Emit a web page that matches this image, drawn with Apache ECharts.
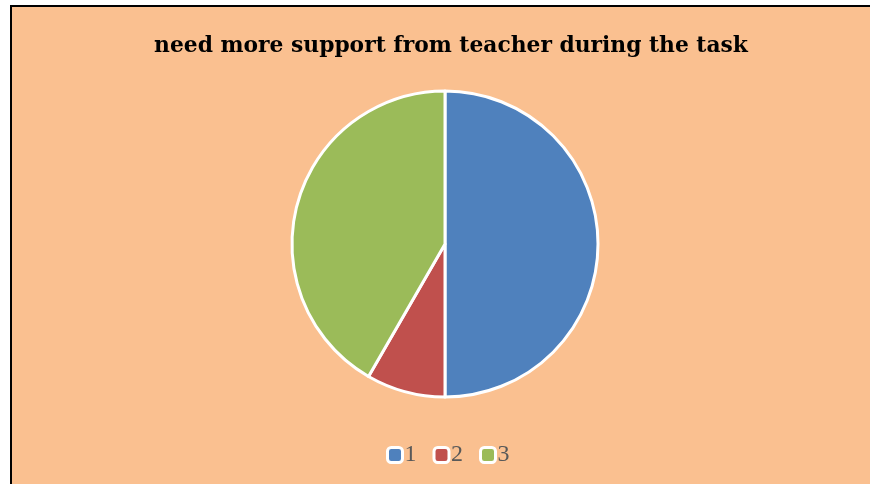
<!DOCTYPE html>
<html><head><meta charset="utf-8">
<script src="https://cdn.jsdelivr.net/npm/echarts@6/dist/echarts.min.js"></script>
<style>
html,body{margin:0;padding:0;background:#fff;overflow:hidden;}
#wrap{position:absolute;left:10px;top:5px;width:880px;height:500px;border:2px solid #000;background:#FAC090;}
#chart{width:880px;height:500px;}
</style></head>
<body><div id="wrap"><div id="chart"></div></div>
<script>
const title = 'need more support from teacher during the task';
const categories = ['1', '2', '3'];
const values = [6, 1, 5];
const colors = ['#4F81BD', '#C0504D', '#9BBB59'];

const chart = echarts.init(document.getElementById('chart'), null, {renderer: 'canvas'});
chart.setOption({
  backgroundColor: 'transparent',
  animation: false,
  title: {
    text: title, left: 434, top: 23, textAlign: 'center',
    textStyle: {fontFamily: 'DejaVu Serif', fontWeight: 'bold', fontSize: 21.8, color: '#000'}
  },
  legend: {
    data: categories, top: 431, left: 369,
    itemWidth: 15, itemHeight: 15, itemGap: 16,
    icon: 'roundRect',
    itemStyle: {borderColor: '#fff', borderWidth: 3},
    textStyle: {fontFamily: 'Liberation Serif', fontSize: 24, color: '#595959', padding: [0,0,0,-3]}
  },
  series: [{
    type: 'pie', center: [433, 237], radius: 153, startAngle: 90, clockwise: true,
    label: {show: false}, labelLine: {show: false},
    itemStyle: {borderColor: '#fff', borderWidth: 3},
    data: categories.map((c, i) => ({name: c, value: values[i], itemStyle: {color: colors[i]}}))
  }]
});
</script></body></html>
